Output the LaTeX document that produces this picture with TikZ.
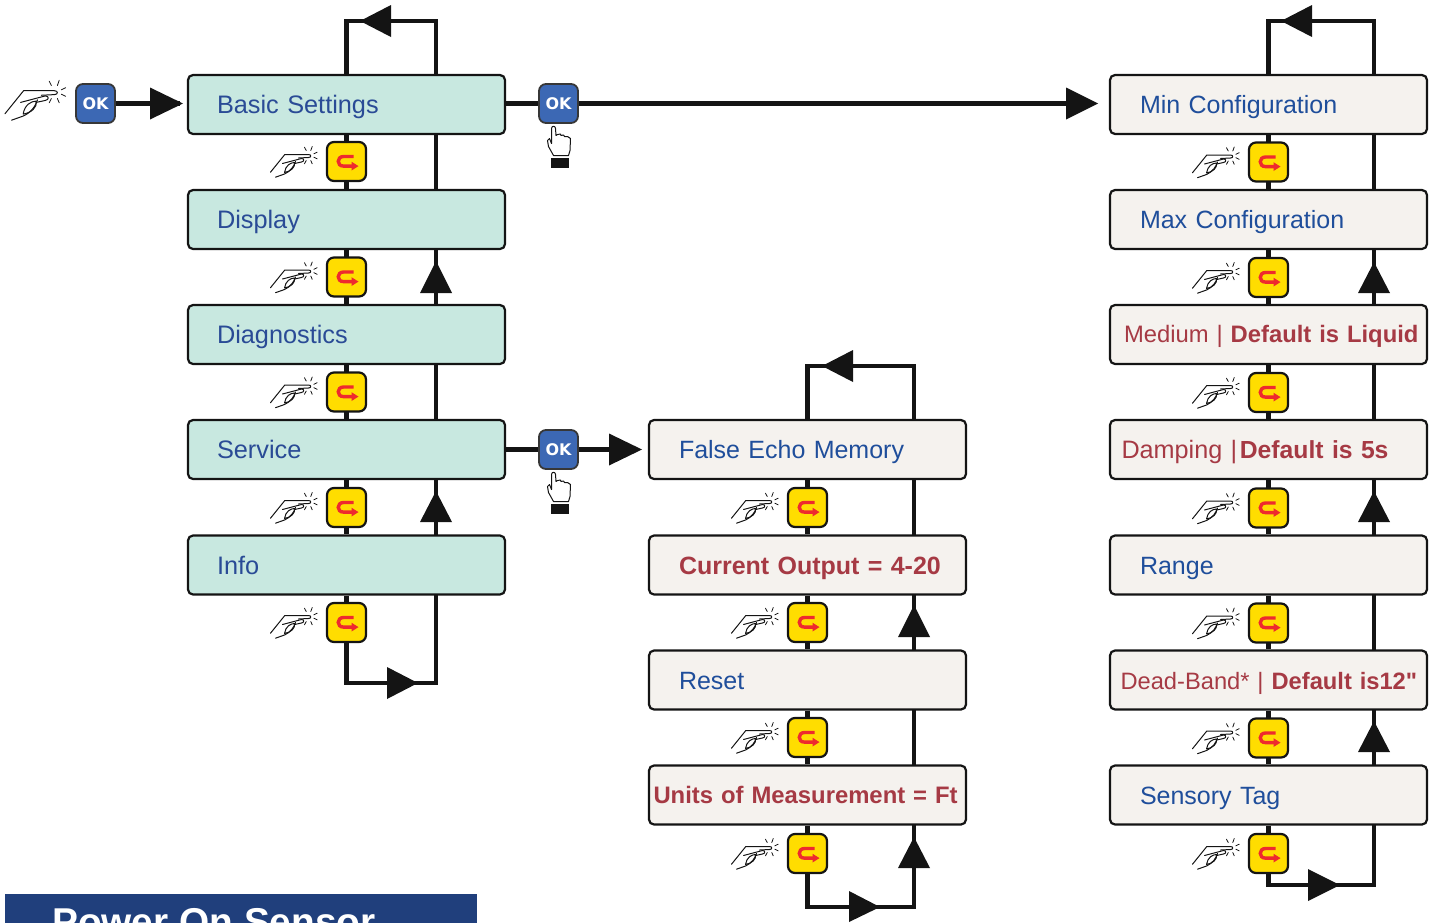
\documentclass[tikz,border=0pt]{standalone}
\usepackage{fontspec}
\setmainfont{Liberation Sans}
\newfontfamily\okfont{DejaVu Sans}
\newfontfamily\qfont{Liberation Sans}
\usetikzlibrary{arrows.meta,backgrounds,positioning}
\definecolor{teal}{HTML}{C8E8E0}
\definecolor{cream}{HTML}{F5F2EE}
\definecolor{blueA}{HTML}{2A4B96}
\definecolor{blueB}{HTML}{1F4E9B}
\definecolor{redT}{HTML}{A63A44}
\definecolor{okblue}{HTML}{3C68B4}
\definecolor{keyY}{HTML}{FFDD00}
\definecolor{keyR}{HTML}{EE2A2E}
\definecolor{banner}{HTML}{203F7C}
\definecolor{ink}{HTML}{141414}
\tikzset{
  menubox/.style={draw=ink,line width=2.2pt,rounded corners=5pt,minimum width=317pt,minimum height=59pt,
    text height=24pt,text depth=6pt,inner ysep=0pt,inner xsep=0pt,text width=317pt,align=left,font=\fontsize{25}{25}\selectfont},
  tealbox/.style={menubox,fill=teal,text=blueA,font=\fontsize{25.3}{25.3}\selectfont,execute at begin node={\hspace*{29pt}}},
  creambox/.style={menubox,fill=cream,text=blueB,execute at begin node={\hspace*{#1pt}}},
  creambox/.default=30,
  raised/.style={text height=22pt},
  okkey/.style={draw=ink!85,line width=1.8pt,fill=okblue,rounded corners=7pt,minimum width=39pt,minimum height=39pt,inner sep=0pt,text=white,font=\okfont\fontsize{16}{16}\selectfont\bfseries},
  retkey/.style={draw=ink,line width=2.2pt,fill=keyY,rounded corners=7pt,minimum width=39pt,minimum height=39pt,inner sep=0pt},
  wire/.style={draw=ink,line width=4.6pt},
  pressing/.pic={
    \begin{scope}[line width=1pt,draw=ink,line cap=round,line join=round]
    \draw (-40,16.7) -- (-25.7,-1) -- (-2,-1) .. controls (1,-1) and (1,2) .. (-2,2) -- (-12,2.5);
    \draw (-28,8) -- (-9,3) .. controls (-6,3) and (-6,6) .. (-9,6.5) -- (-16,8);
    \draw (-35,21.7) -- (-26,18.5) .. controls (-20,16) and (-16,10) .. (-15,6);
    \draw (-26,17) .. controls (-25,10) and (-20,7) .. (-16,7) .. controls (-15,12) and (-20,16) .. (-26,17);
    \draw[line width=.8pt] (-6,-8.3) -- (-4.3,-5); \draw[line width=.8pt] (1.7,-9) -- (.3,-5);
    \draw[line width=.8pt] (6.7,-3.3) -- (3.3,-1.7); \draw[line width=.8pt] (6.7,3.3) -- (3.3,1.7);
    \draw[line width=.8pt] (1.7,8.3) -- (.3,5); \draw[line width=.8pt] (-6,8.3) -- (-4.3,5);
    \end{scope}},
  pointer/.pic={
    \draw[line width=1pt,draw=ink,fill=white,line join=round]
      (-7,2) .. controls (-7,-1) and (-3,-1) .. (-3,2) -- (-2.5,9) -- (-1,8) -- (2,7.5) -- (2.5,9) -- (5,8.5) -- (6,10) -- (9,10) -- (12,12)
      -- (11.5,24) -- (10,29) -- (-5,29) -- (-10,20) -- (-11,14) -- (-9,12) -- (-7,17) -- cycle;
    \fill[ink] (-7.5,31) rectangle (10,41);
  },
  retarrow/.pic={
    \draw[keyR,line width=3.4pt] (7,-5) -- (-3,-5) .. controls (-10,-5) and (-10,4.6) .. (-3,4.6) -- (6,4.6);
    \fill[keyR] (5,0.2) -- (12,4.6) -- (5,9) -- cycle;
  }
}
\begin{document}
\begin{tikzpicture}[x=1pt,y=-1pt]
\useasboundingbox (0,0) rectangle (1435,922);
% left column
\node[tealbox] (b1) at (346.5,104.5) {Basic Settings};
\node[tealbox] (b2) at (346.5,219.5) {Display};
\node[tealbox] (b3) at (346.5,334.5) {Diagnostics};
\node[tealbox] (b4) at (346.5,449.5) {Service};
\node[tealbox] (b5) at (346.5,565) {Info};
% middle column
\node[creambox] (m1) at (807.5,449.5) {False Echo Memory};
\node[creambox=30,text=redT,font=\fontsize{25}{25}\selectfont\bfseries] (m2) at (807.5,565) {Current Output = 4-20};
\node[creambox] (m3) at (807.5,680) {Reset};
\node[creambox=4.5,raised,text=redT,font=\fontsize{23.85}{24}\selectfont\bfseries] (m4) at (807.5,795) {Units of Measurement = Ft};
% right column
\node[creambox] (r1) at (1268.5,104.5) {Min Configuration};
\node[creambox] (r2) at (1268.5,219.5) {Max Configuration};
\node[creambox=14,raised,text=redT,font=\fontsize{23.8}{24}\selectfont] (r3) at (1268.5,334.5) {Medium | \textbf{Default is Liquid}};
\node[creambox=11.5,text=redT,font=\fontsize{25.2}{25}\selectfont] (r4) at (1268.5,449.5) {Damping |\hspace{2.6pt}{\fontsize{24.7}{25}\selectfont\bfseries Default is 5s}};
\node[creambox] (r5) at (1268.5,565) {Range};
\node[creambox=10.5,text=redT,font=\fontsize{23.7}{24}\selectfont] (r6) at (1268.5,680) {Dead-Band* | \textbf{Default is12{\qfont\symbol{34}}}};
\node[creambox] (r7) at (1268.5,795) {Sensory Tag};
% OK keys
\node[okkey] (ok0) at (95.5,103.5) {OK};
\node[okkey] (ok1) at (558.5,103.5) {OK};
\node[okkey] (ok2) at (558.5,449.5) {OK};
% return keys
\foreach \n/\x/\y in {a1/346.5/161.5,a2/346.5/277,a3/346.5/392,a4/346.5/507.5,a5/346.5/622.5,
  c1/807.5/507.5,c2/807.5/622.5,c3/807.5/737.5,c4/807.5/853.5,
  d1/1268.5/162,d2/1268.5/277.5,d3/1268.5/392.5,d4/1268.5/508,d5/1268.5/623,d6/1268.5/738,d7/1268.5/853.5}{
  \node[retkey] (\n) at (\x,\y) {};
  \pic at (\n.center) {retarrow};
  \pic at ([shift={(-36pt,6pt)}]\n.center) {pressing};
}
\pic[scale=1.3] at (57,92) {pressing};
\pic at (ok1.center) [shift={(0pt,-23pt)}] {pointer};
\pic at (ok2.center) [shift={(0pt,-23pt)}] {pointer};
% corner coordinates
\coordinate (lt1) at (346.5,21); \coordinate (lt2) at (436,21); \coordinate (lb1) at (346.5,683); \coordinate (lb2) at (436,683);
\coordinate (mt1) at (807.5,366); \coordinate (mt2) at (914,366); \coordinate (mb1) at (807.5,907); \coordinate (mb2) at (914,907);
\coordinate (rt1) at (1268.5,21); \coordinate (rt2) at (1374,21); \coordinate (rb1) at (1268.5,885); \coordinate (rb2) at (1374,885);
\coordinate (tip0) at (180,103.5); \coordinate (tip1) at (1090,103.5); \coordinate (tip2) at (635,449.5);
\begin{scope}[on background layer]
\draw[wire] (ok0) -- (tip0);
\draw[wire] (ok1 -| b1.east) -- (ok1) -- (tip1);
\draw[wire] (b4) -- (ok2) -- (tip2);
\draw[wire] (b1) -- (b2) -- (b3) -- (b4) -- (b5) -- (lb1) -- (lb2) -- (lt2) -- (lt1) -- (b1);
\draw[wire] (m1) -- (m2) -- (m3) -- (m4) -- (mb1) -- (mb2) -- (mt2) -- (mt1) -- (m1);
\draw[wire] (r1) -- (r2) -- (r3) -- (r4) -- (r5) -- (r6) -- (r7) -- (rb1) -- (rb2) -- (rt2) -- (rt1) -- (r1);
\end{scope}
% arrowheads
\foreach \ax/\ay/\bx/\by/\cx/\cy in {150/87.5/150/119.5/183/103.5,1066/87.5/1066/119.5/1098/103.5,609/433.5/609/465.5/642/449.5,
  391/5/391/37/360/21,853/350/853/382/822/366,1312/5/1312/37/1281/21,
  387/667/387/699/418/683,849/891/849/922/880/907,1308/869/1308/901/1340/885,
  420/293/452/293/436/261,420/522/452/522/436/491,
  898/637/930/637/914/605,898/868/930/868/914/837,
  1358/293/1390/293/1374/262,1358/522/1390/522/1374/491,1358/752/1390/752/1374/721}{
  \fill[ink] (\ax,\ay) -- (\bx,\by) -- (\cx,\cy) -- cycle;
}
% banner
\begin{scope}
\clip (0,0) rectangle (1435,922);
\fill[banner] (5,894) rectangle (477,930);
\node[anchor=base west,inner sep=0pt,text=white,font=\fontsize{38.8}{38.8}\selectfont\bfseries] (title) at (52,935) {Power On Sensor};
\end{scope}
\end{tikzpicture}
\end{document}
